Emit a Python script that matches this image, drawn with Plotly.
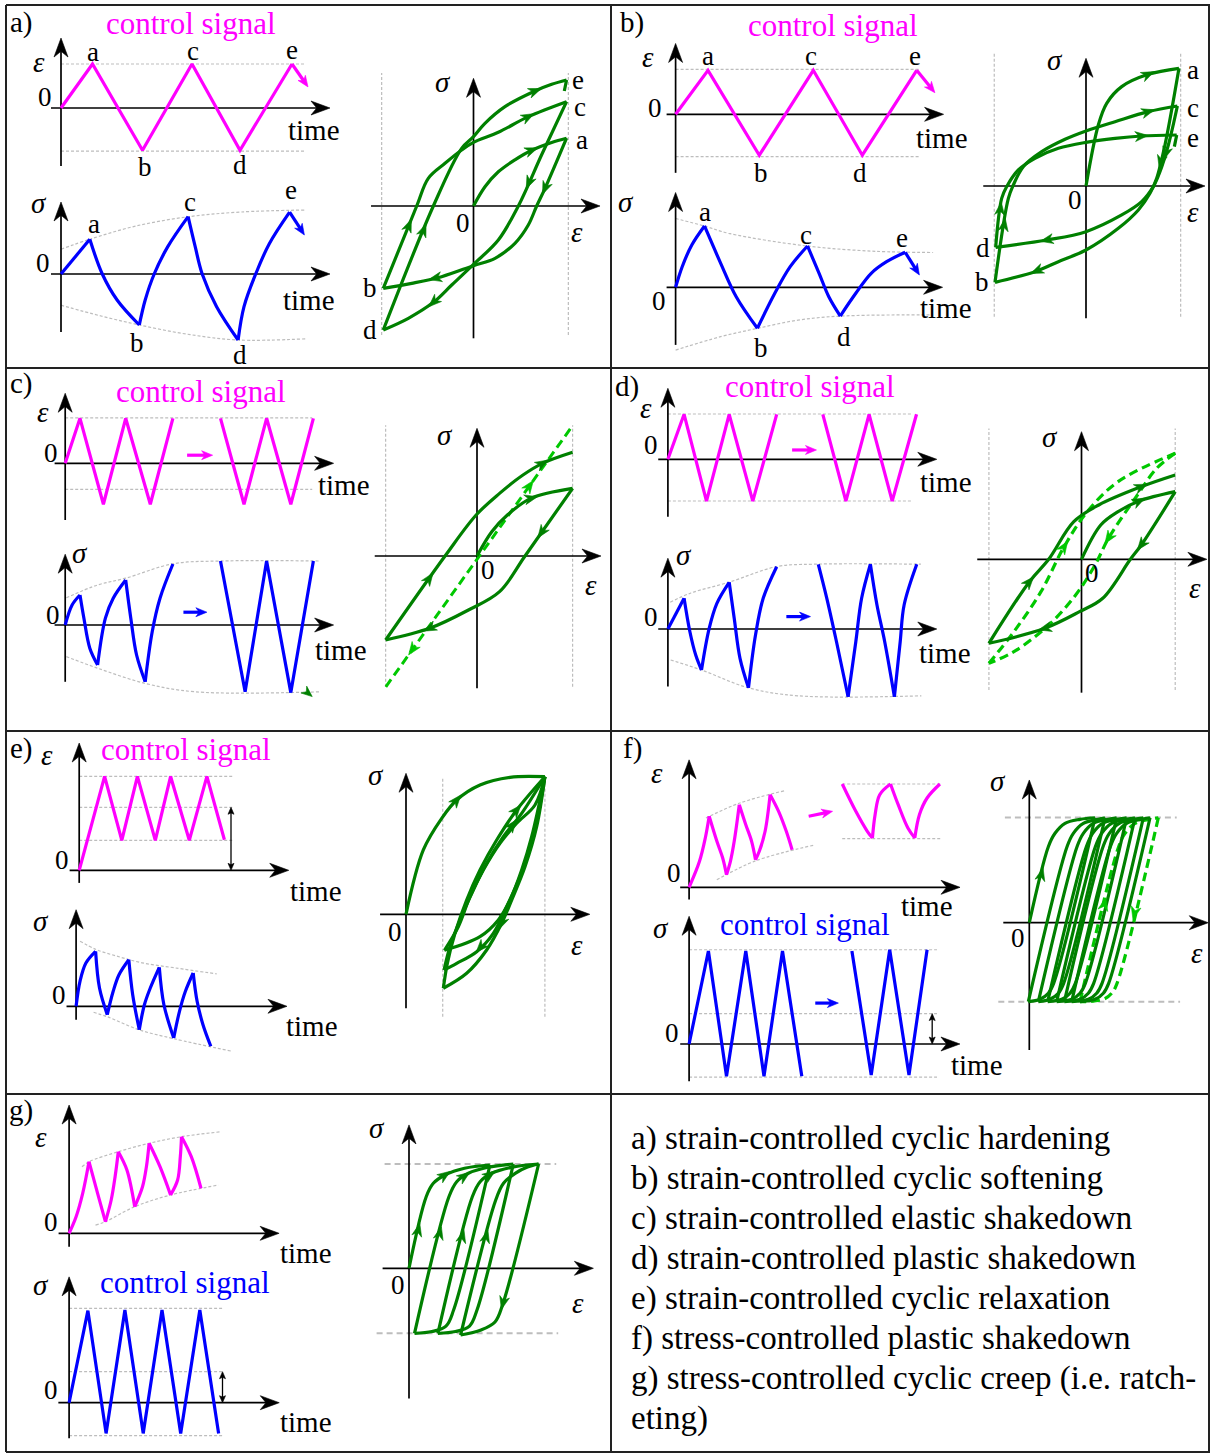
import math
import plotly.graph_objects as go

# =====================================================================
# DATA  (each small plot uses its own units: time in half-cycles/cycles,
#        strain and stress normalised to the control amplitude)
# =====================================================================

# ---------- a) strain-controlled cyclic hardening ----------
A_EPS_T = [0, 0.63, 1.63, 2.62, 3.58, 4.62]
A_EPS = [0, 1, -0.96, 1, -0.96, 1]
A_EPS_NEXT_T = [4.62, 4.94]
A_EPS_NEXT = [1, 0.48]
A_EPS_LIMITS = [1, -0.98]
A_SIG_T = [[0, 0.576], [0.576, 0.826, 1.122, 1.566], [1.566, 1.684, 1.864, 2.136, 2.542],
           [2.542, 2.684, 2.824, 3.112, 3.542], [3.542, 3.66, 3.894, 4.166, 4.572]]
A_SIG = [[0, 0.868], [0.868, 0, -0.65, -1.275], [-1.275, -0.65, 0, 0.683, 1.433],
         [1.433, 0.683, 0, -0.817, -1.65], [-1.65, -0.817, 0, 0.758, 1.548]]
A_SIG_NEXT_T = [4.572, 4.868]
A_SIG_NEXT = [1.548, 0.975]
A_ENV_UP_T = [0, 0.58, 1.5, 2.54, 3.6, 4.9]
A_ENV_UP = [0.62, 0.87, 1.2, 1.43, 1.55, 1.6]
A_ENV_LO_T = [0, 0.8, 1.57, 2.5, 3.54, 4.9]
A_ENV_LO = [-0.78, -1.05, -1.275, -1.5, -1.65, -1.62]
A_LOOP_EPS = [[0, 0.122, 0.264, 0.441, 0.619, 0.832, 0.99],
              [0.99, 0.761, 0.672, 0.583, 0.441, 0.229, 0, -0.339, -0.657, -0.96],
              [-0.96, -0.604, -0.481, -0.303, -0.126, 0, 0.264, 0.583, 0.99],
              [0.99, 0.73, 0.477, 0.264, 0, -0.232, -0.427, -0.693, -0.96],
              [-0.96, -0.427, -0.126, 0, 0.122, 0.335, 0.654, 0.832, 0.99],
              [0.99, 0.966]]
A_LOOP_SIG = [[0, 0.32, 0.57, 0.77, 0.93, 1.06, 1.13],
              [1.13, 0.294, 0, -0.317, -0.622, -0.872, -0.994, -1.178, -1.289, -1.372],
              [-1.372, 0, 0.461, 0.711, 0.933, 1.061, 1.228, 1.489, 1.739],
              [1.739, 0.87, 0, -0.567, -0.972, -1.317, -1.606, -1.872, -2.067],
              [-2.067, 0, 0.961, 1.156, 1.378, 1.656, 1.917, 2.028, 2.1],
              [2.1, 1.917]]
A_LOOP_ARROWS = [(0, 0.619, 0.933), (1, 0.761, 0.294), (1, -0.41, -1.194), (2, -0.693, -0.317),
                 (2, 0.583, 1.489), (3, 0.6, 0.378), (3, -0.427, -1.606), (4, -0.53, -0.4), (4, 0.654, 1.933)]

# ---------- b) strain-controlled cyclic softening ----------
B_EPS_T = [0, 0.648, 1.674, 2.754, 3.734, 4.822]
B_EPS = [0, 1, -0.93, 1, -0.93, 1]
B_EPS_NEXT_T = [4.822, 5.186]
B_EPS_NEXT = [1, 0.49]
B_EPS_LIMITS = [1.02, -0.964]
B_SIG_T = [[0, 0.132, 0.324, 0.578], [0.578, 0.902, 1.212, 1.636], [1.636, 1.984, 2.292, 2.638],
           [2.638, 2.87, 3.064, 3.294], [3.294, 3.604, 3.912, 4.22, 4.592]]
B_SIG = [[0, 0.515, 1.058, 1.533], [1.533, 0.6, -0.235, -1.025], [-1.025, -0.15, 0.515, 1.033],
         [1.033, 0.35, -0.235, -0.718], [-0.718, -0.15, 0.35, 0.64, 0.875]]
B_SIG_NEXT_T = [4.592, 4.876]
B_SIG_NEXT = [0.875, 0.308]
B_ENV_UP_T = [0, 0.58, 1.06, 2.64, 4.0, 5.15]
B_ENV_UP = [1.72, 1.53, 1.35, 1.03, 0.9, 0.87]
B_ENV_LO_T = [0, 0.9, 1.64, 2.45, 3.29, 5.15]
B_ENV_LO = [-1.57, -1.235, -1.025, -0.82, -0.72, -0.69]
B_LOOP_EPS = [[0, 0.131, 0.22, 0.38, 0.663, 0.989],
              [0.989, 0.84, 0.752, 0.681, 0.557, 0.344, 0, -0.294, -0.543, -0.968],
              [-0.968, -0.826, -0.773, -0.667, -0.471, -0.223, 0, 0.309, 0.663, 0.972],
              [0.972, 0.876, 0.787, 0.716, 0.592, 0.38, 0, -0.418, -0.961],
              [-0.961, -0.897, -0.844, -0.72, -0.543, -0.294, 0, 0.309, 0.592, 0.965],
              [0.965, 0.94]]
B_LOOP_SIG = [[0, 1.017, 1.378, 1.656, 1.861, 1.961],
              [1.961, 0.683, 0.128, -0.122, -0.4, -0.706, -1.067, -1.261, -1.428, -1.606],
              [-1.606, -0.206, 0.017, 0.322, 0.572, 0.778, 0.917, 1.072, 1.239, 1.333],
              [1.333, 0.683, 0.239, -0.011, -0.261, -0.483, -0.761, -0.9, -1.022],
              [-1.022, -0.206, -0.011, 0.267, 0.461, 0.628, 0.728, 0.794, 0.833, 0.85],
              [0.85, 0.656]]
B_LOOP_ARROWS = [(0, 0.663, 1.861), (1, 0.8, 0.4), (1, -0.525, -1.417), (2, -0.844, -0.65),
                 (2, 0.663, 1.239), (3, 0.83, 0.55), (3, -0.418, -0.9), (4, -0.926, -0.372), (4, 0.592, 0.833)]

# ---------- c) strain-controlled elastic shakedown ----------
C_EPS_T = [[0, 0.643, 1.661, 2.63, 3.7, 4.682], [6.752, 7.774, 8.757, 9.809, 10.79]]
C_EPS = [[0, 1, -0.91, 1, -0.91, 1], [1, -0.91, 1, -0.91, 1]]
C_EPS_LIMITS = [1.01, -0.58]
C_SIG_T = [[0, 0.3, 0.643], [0.643, 0.813, 1.07, 1.409], [1.409, 1.748, 2.087, 2.63],
           [2.63, 2.852, 3.104, 3.478], [3.478, 3.783, 4.122, 4.683]]
C_SIG = [[0, 0.5, 0.75], [0.75, 0.17, -0.58, -1.0], [-1.0, 0.17, 0.67, 1.125],
         [1.125, 0.17, -0.75, -1.42], [-1.42, -0.17, 0.67, 1.525]]
C_SIG2_T = [6.752, 7.822, 8.757, 9.809, 10.79]
C_SIG2 = [1.6, -1.67, 1.6, -1.69, 1.6]
C_ENV_UP_T = [0.05, 1.41, 2.63, 4.68, 6.75, 11.1]
C_ENV_UP = [0.68, 1.0, 1.17, 1.53, 1.6, 1.6]
C_ENV_LO_T = [0.05, 1.41, 3.48, 5.65, 11.1]
C_ENV_LO = [-0.79, -1.08, -1.46, -1.67, -1.67]
C_LOOP_EPS = [[0, 0.157, 0.323, 0.572, 1.017], [1.017, 0.511, 0.24, -0.091, -0.506, -0.972],
              [-0.972, -0.34, -0.009, 0.24, 0.489, 0.697, 1.017]]
C_LOOP_SIG = [[0, 0.405, 0.683, 0.961, 1.128], [1.128, 0, -0.594, -0.9, -1.206, -1.4],
              [-1.4, 0, 0.683, 1.044, 1.35, 1.544, 1.728]]
C_LOOP_ARROWS = [(0, 0.572, 0.989), (1, 0.697, 0.378), (1, -0.506, -1.206), (2, -0.506, -0.372), (2, 0.697, 1.544)]
C_ELASTIC_EPS = [-0.97, 1.02]
C_ELASTIC_SIG = [-2.18, 2.18]

# ---------- d) strain-controlled plastic shakedown ----------
D_EPS_T = [[0, 0.704, 1.678, 2.665, 3.691, 4.73], [6.735, 7.739, 8.748, 9.752, 10.81]]
D_EPS = [[0, 1, -0.93, 1, -0.93, 1], [1, -0.93, 1, -0.93, 1]]
D_EPS_LIMITS = [1.007, -0.927]
D_SIG_T = [[0, 0.704], [0.704, 0.956, 1.209, 1.461], [1.461, 1.795, 2.13, 2.665], [2.665, 2.883, 3.135, 3.504],
           [3.504, 3.809, 4.143, 4.73], [6.539, 6.909, 7.33, 7.835], [7.835, 8.17, 8.422, 8.804],
           [8.804, 9.09, 9.426, 9.848], [9.848, 10.1, 10.27, 10.82]]
D_SIG = [[0, 0.767], [0.767, -0.068, -0.65, -1.025], [-1.025, 0.018, 0.643, 1.168], [1.168, 0.268, -0.733, -1.468],
         [-1.468, -0.15, 0.768, 1.558], [1.618, 0.768, -0.318, -1.693], [-1.693, -0.318, 0.768, 1.618],
         [1.618, 0.6, -0.318, -1.693], [-1.693, -0.318, 0.6, 1.618]]
D_ENV_UP_T = [0.1, 1.0, 2.66, 4.73, 6.3, 11.0]
D_ENV_UP = [0.67, 0.9, 1.17, 1.56, 1.62, 1.62]
D_ENV_LO_T = [0.12, 1.46, 3.5, 5.65, 11.02]
D_ENV_LO = [-0.775, -1.025, -1.47, -1.67, -1.67]
D_LOOP_EPS = [[0, 0.205, 0.389, 0.615, 0.997], [0.997, 0.636, 0.52, 0.226, -0.021, -0.39, -0.985],
              [-0.985, -0.554, -0.349, -0.082, 0.184, 0.636, 0.997]]
D_LOOP_SIG = [[0, 0.572, 0.794, 0.972, 1.127], [1.127, 0.238, 0, -0.65, -0.873, -1.15, -1.4],
              [-1.4, -0.373, 0, 0.627, 0.905, 1.21, 1.405]]
D_LOOP_ARROWS = [(0, 0.615, 0.972), (1, 0.636, 0.238), (1, -0.39, -1.15), (2, -0.554, -0.373), (2, 0.636, 1.21)]
D_DASH_EPS = [[-0.985, -0.719, -0.431, -0.185, 0.061, 0.389, 0.997],
              [0.997, 0.8, 0.595, 0.287, 0.144, -0.062, -0.349, -0.719, -0.985]]
D_DASH_SIG = [[-1.733, -1.206, -0.539, 0.21, 0.794, 1.294, 1.767],
              [1.767, 1.517, 1.072, 0.35, -0.095, -0.595, -1.095, -1.54, -1.733]]
D_DASH_ARROWS = [(0, -0.185, 0.21), (1, 0.287, 0.35)]

# ---------- e) strain-controlled cyclic relaxation ----------
E_EPS_T = [0, 0.77, 1.291, 1.764, 2.306, 2.77, 3.336, 3.87, 4.4]
E_EPS = [0, 2.98, 0.952, 2.98, 0.952, 2.98, 0.952, 2.98, 0.97]
E_EPS_LEVELS = [2.98, 2.0, 0.952]
E_SIG_T = [[0, 0.118, 0.297, 0.591], [0.591, 0.709, 0.945], [0.945, 1.124, 1.3, 1.597], [1.597, 1.715, 1.915],
           [1.915, 2.07, 2.248, 2.521], [2.521, 2.661, 2.958], [2.958, 3.133, 3.312, 3.548],
           [3.548, 3.667, 3.845, 4.082]]
E_SIG = [[0, 0.833, 1.443, 1.833], [1.833, 0.61, -0.28], [-0.28, 0.5, 1.053, 1.553], [1.553, 0.387, -0.78],
         [-0.78, 0.053, 0.61, 1.3], [1.3, 0.053, -1.057], [-1.057, -0.167, 0.5, 1.11],
         [1.11, 0.167, -0.613, -1.333]]
E_ENV_UP_T = [0.12, 0.59, 1.24, 2.0, 3.0, 4.26]
E_ENV_UP = [2.17, 1.9, 1.67, 1.45, 1.28, 1.08]
E_ENV_LO_T = [0.53, 0.95, 1.9, 2.96, 4.73]
E_ENV_LO = [-0.2, -0.35, -0.78, -1.08, -1.5]
E_LOOP_EPS = [[0, 0.374, 0.771, 1.095, 1.598, 2.246, 3.0],
              [3.0, 2.822, 2.57, 2.282, 2.066, 1.742, 1.31, 0.806],
              [0.806, 0.893, 1.058, 1.31, 1.598, 1.958, 2.39, 3.0],
              [3.0, 2.75, 2.462, 2.175, 1.886, 1.527, 1.095, 0.821],
              [0.821, 0.95, 1.166, 1.454, 1.742, 2.102, 2.498, 3.0],
              [3.0, 2.714, 2.498, 2.246, 1.994, 1.598, 0.83],
              [0.83, 1.13, 1.382, 1.67, 2.03, 2.39, 2.786, 3.0]]
E_LOOP_SIG = [[0, 1.072, 1.6, 1.905, 2.155, 2.283, 2.293],
              [2.293, 1.46, 0.793, 0.238, -0.15, -0.595, -0.983, -1.233],
              [-1.233, -0.817, -0.317, 0.238, 0.738, 1.238, 1.738, 2.293],
              [2.293, 1.293, 0.627, 0.127, -0.317, -0.623, -0.817, -0.928],
              [-0.928, -0.54, -0.095, 0.405, 0.85, 1.293, 1.683, 2.293],
              [2.293, 1.293, 0.738, 0.238, -0.095, -0.373, -0.6],
              [-0.6, -0.207, 0.293, 0.738, 1.183, 1.517, 1.822, 2.293]]
E_LOOP_ARROWS = [(0, 1.095, 1.905), (2, 2.39, 1.74), (4, 2.3, 1.49), (1, 2.07, -0.15), (3, 1.6, -0.55)]
E_EPS_LIMITS = [0.793, 3.0]

# ---------- f) stress-controlled plastic shakedown ----------
F_EPS_T = [[0, 0.315, 0.491, 0.609], [0.609, 0.842, 1.018, 1.133], [1.133, 1.252, 1.367, 1.521],
           [1.521, 1.718, 1.894, 2.012], [2.012, 2.127, 2.303, 2.455], [2.455, 2.712, 2.945, 3.121],
           [4.642, 5.052, 5.4, 5.555], [5.555, 5.636, 5.776, 6.103], [6.103, 6.336, 6.63, 6.839],
           [6.839, 6.979, 7.212, 7.6]]
F_EPS = [[0, 0.867, 1.643, 2.367], [2.367, 1.533, 0.977, 0.42], [0.42, 0.867, 1.533, 2.753],
         [2.753, 2.087, 1.533, 0.92], [0.92, 1.2, 1.867, 3.087], [3.087, 2.533, 1.867, 1.253],
         [3.443, 2.533, 1.867, 1.643], [1.643, 2.42, 3.087, 3.443], [3.443, 2.753, 1.977, 1.643],
         [1.643, 2.42, 2.977, 3.443]]
F_EPS_ENV_UP_T = [0.51, 1.54, 2.89]
F_EPS_ENV_UP = [2.31, 2.81, 3.22]
F_EPS_ENV_LO_T = [0.84, 2.01, 3.76]
F_EPS_ENV_LO = [0.25, 0.88, 1.4]
F_EPS_LIMITS = [3.443, 1.62]
F_SIG_T = [[0, 0.522, 1.011, 1.532, 2.024, 2.524, 3.046], [4.4, 4.922, 5.422, 5.943, 6.432]]
F_SIG = [[0, 3.0, -1.04, 3.0, -1.04, 3.0, -1.04], [3.0, -1.0, 3.04, -1.0, 3.04]]
F_SIG_LEVELS = [3.04, 0.98, -1.07]
F_LOOP_EPS = [[0, 0.476, 0.643, 0.893, 1.268, 1.643],
              [1.643, 0.609, 0.476, 0.268, -0.024],
              [-0.024, 0.943, 1.101, 1.351, 1.726, 1.893],
              [1.893, 0.859, 0.726, 0.518, 0.226],
              [0.226, 1.193, 1.351, 1.601, 1.976, 2.184],
              [2.184, 1.151, 1.018, 0.809, 0.459],
              [0.459, 1.426, 1.584, 1.834, 2.209, 2.434],
              [2.434, 1.401, 1.268, 1.059, 0.684],
              [0.684, 1.651, 1.809, 2.059, 2.434, 2.643],
              [2.643, 1.609, 1.476, 1.268, 0.876],
              [0.876, 1.843, 2.001, 2.251, 2.626, 2.851],
              [2.851, 1.818, 1.684, 1.476, 1.059],
              [1.059, 2.026, 2.184, 2.434, 2.809, 3.018],
              [3.018, 1.984, 1.851, 1.643, 1.268]]
F_LOOP_SIG = [[0, 2.165, 2.547, 2.83, 2.945, 2.99],
              [2.99, -1.727, -2.01, -2.183, -2.25],
              [-2.25, 2.165, 2.547, 2.83, 2.945, 2.99],
              [2.99, -1.727, -2.01, -2.183, -2.25],
              [-2.25, 2.165, 2.547, 2.83, 2.945, 2.99],
              [2.99, -1.727, -2.01, -2.183, -2.25],
              [-2.25, 2.165, 2.547, 2.83, 2.945, 2.99],
              [2.99, -1.727, -2.01, -2.183, -2.25],
              [-2.25, 2.165, 2.547, 2.83, 2.945, 2.99],
              [2.99, -1.727, -2.01, -2.183, -2.25],
              [-2.25, 2.165, 2.547, 2.83, 2.945, 2.99],
              [2.99, -1.727, -2.01, -2.183, -2.25],
              [-2.25, 2.165, 2.547, 2.83, 2.945, 2.99],
              [2.99, -1.727, -2.01, -2.183, -2.25]]
F_DASH_EPS = [[1.268, 2.234, 2.393, 2.643, 3.018, 3.226], [3.226, 2.193, 2.059, 1.851, 1.268]]
F_DASH_SIG = [[-2.25, 2.165, 2.547, 2.83, 2.945, 2.99], [2.99, -1.727, -2.01, -2.183, -2.25]]
F_LOOP_ARROWS = [(0, 0.225, 1.407)]
F_DASH_ARROWS = [(0, 1.81, 0.553), (1, 2.64, 0.268)]
F_LIMITS = [3.0, -2.25]

# ---------- g) stress-controlled cyclic creep (ratcheting) ----------
G_EPS_T = [[0, 0.233, 0.453, 0.663], [0.663, 0.95, 1.21], [1.21, 1.403, 1.533, 1.64], [1.64, 1.927, 2.187],
           [2.187, 2.447, 2.577, 2.667], [2.667, 3.03, 3.383], [3.383, 3.617, 3.707, 3.747], [3.747, 4.073, 4.397]]
G_EPS = [[0, 0.664, 1.6, 2.864], [2.864, 1.6, 0.464], [0.464, 1.332, 2.264, 3.264], [3.264, 2.532, 1.064],
         [1.064, 1.864, 2.664, 3.6], [3.6, 2.664, 1.532], [1.532, 2.132, 3.064, 3.864], [3.864, 3.064, 1.8]]
G_EPS_ENV_UP_T = [0.43, 0.663, 1.64, 2.667, 3.747, 5.05]
G_EPS_ENV_UP = [2.66, 2.864, 3.264, 3.6, 3.864, 4.06]
G_EPS_ENV_LO_T = [0.88, 1.21, 2.187, 3.383, 4.98]
G_EPS_ENV_LO = [0.33, 0.464, 1.064, 1.532, 1.93]
G_SIG_T = [0, 0.508, 1.0, 1.508, 2.003, 2.511, 3.016, 3.533, 4.041]
G_SIG = [0, 2.97, -0.99, 2.99, -0.99, 2.99, -0.99, 2.99, -0.99]
G_SIG_LEVELS = [3.045, 1.0, -1.06]
G_LOOP_EPS = [[0, 0.43, 0.608, 0.9, 1.388, 2.023],
              [2.023, 1.115, 0.925, 0.575, 0.138],
              [0.138, 0.998, 1.193, 1.485, 1.973, 2.608],
              [2.608, 1.7, 1.513, 1.163, 0.723],
              [0.723, 1.583, 1.778, 2.07, 2.558, 3.24],
              [3.24, 2.338, 2.15, 1.8, 1.29],
              [1.29, 2.168, 2.363, 2.655, 2.948, 3.24]]
G_LOOP_SIG = [[0, 2.057, 2.443, 2.681, 2.874, 2.968],
              [2.968, -1.2, -1.66, -1.816, -1.868],
              [-1.868, 2.057, 2.489, 2.73, 2.902, 2.997],
              [2.997, -1.2, -1.66, -1.816, -1.868],
              [-1.868, 2.057, 2.489, 2.73, 2.902, 2.997],
              [2.997, -1.055, -1.543, -1.773, -1.917],
              [-1.917, 1.963, 2.443, 2.73, 2.902, 2.997]]
G_LOOP_ARROWS = [(0, 0.265, 1.1), (2, 0.8, 1.006), (4, 1.388, 0.908), (6, 1.973, 0.908),
                 (0, 0.9, 2.681), (2, 1.388, 2.65), (4, 2.02, 2.7), (5, 2.05, -0.911)]
G_LIMITS = [3.0, -1.868]

LEGEND = ["a) strain-controlled cyclic hardening",
          "b) strain-controlled cyclic softening",
          "c) strain-controlled elastic shakedown",
          "d) strain-controlled plastic shakedown",
          "e) strain-controlled cyclic relaxation",
          "f) stress-controlled plastic shakedown",
          "g) stress-controlled cyclic creep (i.e. ratch-",
          "eting)"]

# =====================================================================
# LAYOUT / STYLE
# =====================================================================
W, H = 1210, 1454
FONT = "Liberation Serif"
MAG, BLUE, DG, LG, GREY, BLACK = "#ff00ff", "#0000ff", "#008000", "#00c800", "#bdbdbd", "#000000"
EPS, SIG = "<i>ε</i>", "<i>σ</i>"

# frame: origin px (x, y), px per unit (x, y), axis extents in units (x0, x1, y0, y1)
FRAMES = {
    'a1': (61, 108, 50, 44, -0.2, 5.38, -1.32, 1.59),
    'a2': (61, 274, 50, 40, -0.2, 5.38, -1.45, 1.8),
    'a3': (473.5, 206, 94, 60, -1.09, 1.346, -2.205, 2.128),
    'b1': (675.6, 114.3, 50, 44, -0.18, 5.36, -1.33, 1.61),
    'b2': (675.6, 287.3, 50, 40, -0.18, 5.34, -1.44, 2.37),
    'b3': (1086, 186, 94, 60, -1.093, 1.266, -2.205, 2.128),
    'c1': (65.2, 463.3, 23, 45, -0.46, 11.67, -1.26, 1.556),
    'c2': (65.2, 625, 23, 40, -0.46, 11.67, -1.42, 1.77),
    'c3': (477, 556, 94, 60, -1.088, 1.319, -2.205, 2.128),
    'd1': (667.9, 459.3, 23, 45, -0.42, 11.69, -1.276, 1.578),
    'd2': (667.9, 629, 23, 40, -0.42, 11.69, -1.44, 1.77),
    'd3': (1081.5, 559.3, 94, 60, -1.109, 1.334, -2.223, 2.127),
    'e1': (79.2, 870.3, 33, 31.5, -0.29, 6.35, -0.4, 4.04),
    'e2': (76.1, 1006.3, 33, 30, -0.29, 6.39, -0.45, 3.22),
    'e3': (406, 914.3, 46.3, 60, -0.56, 3.97, -1.567, 2.35),
    'f1': (689.1, 887.3, 33, 30, -0.27, 8.21, -0.41, 4.25),
    'f2': (689.1, 1044, 37, 31, -0.24, 7.32, -1.2, 4.12),
    'f3': (1029.3, 922.7, 40, 35.1, -0.65, 4.475, -3.627, 4.066),
    'g1': (69.1, 1233.3, 30, 25, -0.35, 7.0, -0.54, 5.13),
    'g2': (69.1, 1402.7, 37, 31, -0.29, 5.68, -1.15, 4.06),
    'g3': (409, 1268.3, 40, 34.8, -0.66, 4.61, -3.74, 4.12),
}

fig = go.Figure()
PL = {}
HEADS = {}


def add_plot(name, ox, oy, sx, sy):
    k = len(PL) + 1
    PL[name] = dict(k=k, ox=ox, oy=oy, sx=sx, sy=sy)
    xa = dict(domain=[0, 1], range=[-ox / sx, (W - ox) / sx], visible=False, fixedrange=True,
              showgrid=False, zeroline=False)
    ya = dict(domain=[0, 1], range=[(oy - H) / sy, oy / sy], visible=False, fixedrange=True,
              showgrid=False, zeroline=False)
    if k > 1:
        xa.update(overlaying='x', anchor=f'y{k}')
        ya.update(overlaying='y', anchor=f'x{k}')
        fig.update_layout({f'xaxis{k}': xa, f'yaxis{k}': ya})
    else:
        fig.update_layout({'xaxis': xa, 'yaxis': ya})


def ref(name):
    k = PL[name]['k']
    return ('x', 'y') if k == 1 else (f'x{k}', f'y{k}')


def path(name, xs, ys, color, width=3.2, dash=None, smooth=True):
    xr, yr = ref(name)
    fig.add_trace(go.Scatter(x=list(xs), y=list(ys), xaxis=xr, yaxis=yr, mode='lines',
                             line=dict(color=color, width=width, dash=dash,
                                       shape='spline' if smooth else 'linear', smoothing=1.0),
                             hoverinfo='skip', showlegend=False))


def segments(name, xl, yl, color, width=3.2, dash=None, smooth=True):
    X, Y = [], []
    for xs, ys in zip(xl, yl):
        X += list(xs) + [None]
        Y += list(ys) + [None]
    path(name, X, Y, color, width, dash, smooth)


def head(name, x, y, ang, L, Wd, color, center=False, notch=0.3):
    p = PL[name]
    c, s = math.cos(math.radians(ang)), math.sin(math.radians(ang))
    off = L / 2 if center else 0
    tx, ty = off * c, off * s
    pts = [(tx, ty),
           (tx - L * c - Wd / 2 * s, ty - L * s + Wd / 2 * c),
           (tx - L * (1 - notch) * c, ty - L * (1 - notch) * s),
           (tx - L * c + Wd / 2 * s, ty - L * s - Wd / 2 * c),
           (tx, ty)]
    hx, hy = HEADS.setdefault((name, color), ([], []))
    for a, b in pts:
        hx.append(x + a / p['sx'])
        hy.append(y + b / p['sy'])
    hx.append(None)
    hy.append(None)


def mark(name, xs, ys, x, y, color, L=13, Wd=10):
    p = PL[name]
    sx, sy = p['sx'], p['sy']
    qx, qy = x * sx, y * sy
    best = None
    for i in range(len(xs) - 1):
        ax_, ay_ = xs[i] * sx, ys[i] * sy
        bx_, by_ = xs[i + 1] * sx, ys[i + 1] * sy
        dx, dy = bx_ - ax_, by_ - ay_
        dd = dx * dx + dy * dy
        if dd == 0:
            continue
        t = max(0.0, min(1.0, ((qx - ax_) * dx + (qy - ay_) * dy) / dd))
        px_, py_ = ax_ + t * dx, ay_ + t * dy
        dist = (px_ - qx) ** 2 + (py_ - qy) ** 2
        if best is None or dist < best[0]:
            best = (dist, px_, py_, math.degrees(math.atan2(dy, dx)))
    _, px_, py_, ang = best
    head(name, px_ / sx, py_ / sy, ang, L, Wd, color, center=True)


def arrow_line(name, x0, y0, x1, y1, color, width=3.2, L=11, Wd=9):
    p = PL[name]
    vx, vy = (x1 - x0) * p['sx'], (y1 - y0) * p['sy']
    n = math.hypot(vx, vy)
    ang = math.degrees(math.atan2(vy, vx))
    ex = x1 - 0.6 * L * vx / n / p['sx']
    ey = y1 - 0.6 * L * vy / n / p['sy']
    path(name, [x0, ex], [y0, ey], color, width, smooth=False)
    head(name, x1, y1, ang, L, Wd, color)


def double_arrow(name, x, y0, y1):
    p = PL[name]
    d = 4 / p['sy']
    path(name, [x, x], [y0 + d, y1 - d], BLACK, 1.3, smooth=False)
    head(name, x, y1, 90, 7, 6, BLACK, notch=0.2)
    head(name, x, y0, -90, 7, 6, BLACK, notch=0.2)


def axes(name):
    ox, oy, sx, sy, x0, x1, y0, y1 = FRAMES[name]
    path(name, [x0, x1 - 10 / sx], [0, 0], BLACK, 1.7, smooth=False)
    path(name, [0, 0], [y0, y1 - 10 / sy], BLACK, 1.7, smooth=False)
    head(name, x1, 0, 0, 19, 14, BLACK)
    head(name, 0, y1, 90, 19, 14, BLACK)


def guide(name, xs, ys, width=1.2, dash='3px,2px', smooth=True):
    path(name, xs, ys, GREY, width, dash, smooth)


def label(name, x, y, text, size=29, color=BLACK):
    xr, yr = ref(name)
    fig.add_annotation(x=x, y=y, xref=xr, yref=yr, text=text, showarrow=False,
                       font=dict(family=FONT, size=size, color=color),
                       xanchor='center', yanchor='middle')


def ptext(px, py, text, size=29, color=BLACK, xanchor='center'):
    fig.add_annotation(x=px / W, y=1 - py / H, xref='paper', yref='paper', text=text, showarrow=False,
                       font=dict(family=FONT, size=size, color=color), xanchor=xanchor, yanchor='middle')


def loops(name, xl, yl, arrows, color, dash=None):
    segments(name, xl, yl, color, 3.2, dash)
    for i, x, y in arrows:
        mark(name, xl[i], yl[i], x, y, color)


for nm, fr in FRAMES.items():
    add_plot(nm, *fr[:4])

# ----------------------------- panel a -----------------------------
guide('a1', [0, 4.86], [A_EPS_LIMITS[0]] * 2, smooth=False)
guide('a1', [0, 4.86], [A_EPS_LIMITS[1]] * 2, smooth=False)
axes('a1')
path('a1', A_EPS_T, A_EPS, MAG, smooth=False)
arrow_line('a1', A_EPS_NEXT_T[0], A_EPS_NEXT[0], A_EPS_NEXT_T[1], A_EPS_NEXT[1], MAG)
guide('a2', A_ENV_UP_T, A_ENV_UP)
guide('a2', A_ENV_LO_T, A_ENV_LO)
axes('a2')
segments('a2', A_SIG_T, A_SIG, BLUE)
arrow_line('a2', A_SIG_NEXT_T[0], A_SIG_NEXT[0], A_SIG_NEXT_T[1], A_SIG_NEXT[1], BLUE)
guide('a3', [-0.977, -0.977], [-2.15, 2.217], smooth=False)
guide('a3', [1.009, 1.009], [-2.15, 2.217], smooth=False)
axes('a3')
loops('a3', A_LOOP_EPS, A_LOOP_SIG, A_LOOP_ARROWS, DG)

# ----------------------------- panel b -----------------------------
guide('b1', [0, 4.88], [B_EPS_LIMITS[0]] * 2, smooth=False)
guide('b1', [0, 4.88], [B_EPS_LIMITS[1]] * 2, smooth=False)
axes('b1')
path('b1', B_EPS_T, B_EPS, MAG, smooth=False)
arrow_line('b1', B_EPS_NEXT_T[0], B_EPS_NEXT[0], B_EPS_NEXT_T[1], B_EPS_NEXT[1], MAG)
guide('b2', B_ENV_UP_T, B_ENV_UP)
guide('b2', B_ENV_LO_T, B_ENV_LO)
axes('b2')
segments('b2', B_SIG_T, B_SIG, BLUE)
arrow_line('b2', B_SIG_NEXT_T[0], B_SIG_NEXT[0], B_SIG_NEXT_T[1], B_SIG_NEXT[1], BLUE)
guide('b3', [-0.976, -0.976], [-2.18, 2.21], smooth=False)
guide('b3', [1.007, 1.007], [-2.18, 2.21], smooth=False)
axes('b3')
loops('b3', B_LOOP_EPS, B_LOOP_SIG, B_LOOP_ARROWS, DG)

# ----------------------------- panel c -----------------------------
guide('c1', [0, 10.74], [C_EPS_LIMITS[0]] * 2, smooth=False)
guide('c1', [0, 10.74], [C_EPS_LIMITS[1]] * 2, smooth=False)
axes('c1')
segments('c1', C_EPS_T, C_EPS, MAG, smooth=False)
arrow_line('c1', 5.3, 0.18, 6.41, 0.18, MAG)
guide('c2', C_ENV_UP_T, C_ENV_UP)
guide('c2', C_ENV_LO_T, C_ENV_LO)
axes('c2')
segments('c2', C_SIG_T, C_SIG, BLUE)
path('c2', C_SIG2_T, C_SIG2, BLUE, smooth=False)
arrow_line('c2', 5.14, 0.32, 6.16, 0.32, BLUE)
head('c2', 10.74, -1.79, -40, 11, 9, DG)
guide('c3', [-0.972, -0.972], [-2.18, 2.18], smooth=False)
guide('c3', [1.017, 1.017], [-2.18, 2.18], smooth=False)
axes('c3')
path('c3', C_ELASTIC_EPS, C_ELASTIC_SIG, LG, 3.0, dash='9px,5px', smooth=False)
mark('c3', C_ELASTIC_EPS, C_ELASTIC_SIG, 0.552, 1.18, LG)
mark('c3', C_ELASTIC_EPS[::-1], C_ELASTIC_SIG[::-1], -0.715, -1.53, LG)
loops('c3', C_LOOP_EPS, C_LOOP_SIG, C_LOOP_ARROWS, DG)

# ----------------------------- panel d -----------------------------
guide('d1', [0, 10.6], [D_EPS_LIMITS[0]] * 2, smooth=False)
guide('d1', [0, 10.6], [D_EPS_LIMITS[1]] * 2, smooth=False)
axes('d1')
segments('d1', D_EPS_T, D_EPS, MAG, smooth=False)
arrow_line('d1', 5.4, 0.207, 6.46, 0.207, MAG)
guide('d2', D_ENV_UP_T, D_ENV_UP)
guide('d2', D_ENV_LO_T, D_ENV_LO)
axes('d2')
segments('d2', D_SIG_T, D_SIG, BLUE)
arrow_line('d2', 5.15, 0.31, 6.2, 0.31, BLUE)
guide('d3', [-0.985, -0.985], [-2.18, 2.18], smooth=False)
guide('d3', [0.997, 0.997], [-2.18, 2.18], smooth=False)
axes('d3')
loops('d3', D_DASH_EPS, D_DASH_SIG, D_DASH_ARROWS, LG, dash='9px,5px')
loops('d3', D_LOOP_EPS, D_LOOP_SIG, D_LOOP_ARROWS, DG)

# ----------------------------- panel e -----------------------------
for lv in E_EPS_LEVELS:
    guide('e1', [0, 4.67], [lv, lv], smooth=False)
axes('e1')
path('e1', E_EPS_T, E_EPS, MAG, smooth=False)
double_arrow('e1', 4.6, 0, 2.0)
guide('e2', E_ENV_UP_T, E_ENV_UP)
guide('e2', E_ENV_LO_T, E_ENV_LO)
axes('e2')
segments('e2', E_SIG_T, E_SIG, BLUE)
for lv in E_EPS_LIMITS:
    guide('e3', [lv, lv], [-1.707, 2.293], smooth=False)
axes('e3')
loops('e3', E_LOOP_EPS, E_LOOP_SIG, E_LOOP_ARROWS, DG)

# ----------------------------- panel f -----------------------------
guide('f1', F_EPS_ENV_UP_T, F_EPS_ENV_UP)
guide('f1', F_EPS_ENV_LO_T, F_EPS_ENV_LO)
for lv in F_EPS_LIMITS:
    guide('f1', [4.64, 7.62], [lv, lv], smooth=False)
axes('f1')
segments('f1', F_EPS_T, F_EPS, MAG)
arrow_line('f1', 3.624, 2.367, 4.348, 2.533, MAG)
for lv in F_SIG_LEVELS:
    guide('f2', [0, 6.7], [lv, lv], smooth=False)
axes('f2')
segments('f2', F_SIG_T, F_SIG, BLUE, smooth=False)
arrow_line('f2', 3.41, 1.32, 4.035, 1.32, BLUE)
double_arrow('f2', 6.57, 0, 0.98)
guide('f3', [-0.61, 3.685], [F_LIMITS[0]] * 2, width=2, dash='6px,4px', smooth=False)
guide('f3', [-0.775, 3.77], [F_LIMITS[1]] * 2, width=2, dash='6px,4px', smooth=False)
axes('f3')
loops('f3', F_DASH_EPS, F_DASH_SIG, F_DASH_ARROWS, LG, dash='9px,5px')
loops('f3', F_LOOP_EPS, F_LOOP_SIG, F_LOOP_ARROWS, DG)

# ----------------------------- panel g -----------------------------
guide('g1', G_EPS_ENV_UP_T, G_EPS_ENV_UP)
guide('g1', G_EPS_ENV_LO_T, G_EPS_ENV_LO)
axes('g1')
segments('g1', G_EPS_T, G_EPS, MAG)
for lv in G_SIG_LEVELS:
    guide('g2', [0, 4.15], [lv, lv], smooth=False)
axes('g2')
path('g2', G_SIG_T, G_SIG, BLUE, smooth=False)
double_arrow('g2', 4.146, 0, 1.0)
guide('g3', [-0.61, 3.68], [G_LIMITS[0]] * 2, width=2, dash='6px,4px', smooth=False)
guide('g3', [-0.81, 3.73], [G_LIMITS[1]] * 2, width=2, dash='6px,4px', smooth=False)
axes('g3')
loops('g3', G_LOOP_EPS, G_LOOP_SIG, G_LOOP_ARROWS, DG)

# ----------------------------- arrowheads -----------------------------
for (nm, col), (hx, hy) in HEADS.items():
    xr, yr = ref(nm)
    fig.add_trace(go.Scatter(x=hx, y=hy, xaxis=xr, yaxis=yr, mode='lines', fill='toself',
                             fillcolor=col, line=dict(color=col, width=0.6),
                             hoverinfo='skip', showlegend=False))

# ----------------------------- labels -----------------------------
LABELS = {
    'a1': [(-0.44, 1.05, EPS), (-0.32, 0.26, '0'), (0.63, 1.27, 'a'), (1.67, -1.33, 'b'), (2.63, 1.3, 'c'),
           (3.58, -1.3, 'd'), (4.62, 1.32, 'e'), (5.05, -0.5, 'time')],
    'a2': [(-0.44, 1.78, SIG), (-0.36, 0.27, '0'), (0.65, 1.25, 'a'), (1.51, -1.73, 'b'), (2.57, 1.81, 'c'),
           (3.58, -2.03, 'd'), (4.6, 2.1, 'e'), (4.95, -0.65, 'time')],
    'a3': [(-0.32, 2.07, SIG), (-0.108, -0.29, '0'), (1.098, -0.428, EPS), (1.151, 1.1, 'a'),
           (1.133, 1.655, 'c'), (1.115, 2.1, 'e'), (-1.101, -1.372, 'b'), (-1.101, -2.067, 'd')],
    'b1': [(-0.55, 1.3, EPS), (-0.41, 0.14, '0'), (0.65, 1.32, 'a'), (1.71, -1.33, 'b'), (2.71, 1.32, 'c'),
           (3.69, -1.33, 'd'), (4.79, 1.32, 'e'), (5.33, -0.54, 'time')],
    'b2': [(-0.99, 2.13, SIG), (-0.33, -0.34, '0'), (0.59, 1.88, 'a'), (1.71, -1.52, 'b'), (2.61, 1.31, 'c'),
           (3.37, -1.24, 'd'), (4.53, 1.23, 'e'), (5.41, -0.52, 'time')],
    'b3': [(-0.33, 2.1, SIG), (1.141, 1.933, 'a'), (1.141, 1.295, 'c'), (1.141, 0.805, 'e'),
           (-1.103, -1.605, 'b'), (-1.092, -1.038, 'd'), (-0.117, -0.233, '0'), (1.141, -0.428, EPS)],
    'c1': [(-0.97, 1.15, EPS), (-0.63, 0.22, '0'), (12.1, -0.48, 'time')],
    'c2': [(0.64, 1.79, SIG), (-0.54, 0.25, '0'), (12.0, -0.63, 'time')],
    'c3': [(-0.34, 2.02, SIG), (0.116, -0.233, '0'), (1.216, -0.483, EPS)],
    'd1': [(-0.97, 1.13, EPS), (-0.72, 0.32, '0'), (12.1, -0.5, 'time')],
    'd2': [(0.7, 1.85, SIG), (-0.72, 0.31, '0'), (12.03, -0.61, 'time')],
    'd3': [(-0.33, 2.04, SIG), (0.11, -0.23, '0'), (1.21, -0.48, EPS)],
    'e1': [(-0.98, 3.67, EPS), (-0.51, 0.34, '0'), (7.18, -0.67, 'time')],
    'e2': [(-1.06, 2.83, SIG), (-0.53, 0.39, '0'), (7.16, -0.67, 'time')],
    'e3': [(-0.65, 2.32, SIG), (-0.24, -0.3, '0'), (3.69, -0.51, EPS)],
    'f1': [(-0.97, 3.81, EPS), (-0.45, 0.48, '0'), (7.21, -0.63, 'time')],
    'f2': [(-0.76, 3.74, SIG), (-0.45, 0.35, '0'), (7.79, -0.67, 'time')],
    'f3': [(-0.78, 4.04, SIG), (-0.28, -0.44, '0'), (4.2, -0.87, EPS)],
    'g1': [(-0.94, 3.86, EPS), (-0.61, 0.46, '0'), (7.91, -0.8, 'time')],
    'g2': [(-0.76, 3.8, SIG), (-0.5, 0.41, '0'), (6.41, -0.61, 'time')],
    'g3': [(-0.81, 4.02, SIG), (-0.27, -0.48, '0'), (4.22, -1.0, EPS)],
}
LETTER_SIZE = 27
for nm, items in LABELS.items():
    for x, y, t in items:
        label(nm, x, y, t, size=LETTER_SIZE if len(t) == 1 else 29)

# panel letters and "control signal" captions (paper coordinates)
for px, py, t in [(21, 22, 'a)'), (632, 22, 'b)'), (21, 383, 'c)'), (627, 386, 'd)'),
                  (21, 748, 'e)'), (632, 748, 'f)'), (21, 1110, 'g)')]:
    ptext(px, py, t)
for px, py, col in [(191, 24, MAG), (833, 25, MAG), (201, 391, MAG), (810, 386, MAG),
                    (186, 749, MAG), (805, 924, BLUE), (185, 1282, BLUE)]:
    ptext(px, py, 'control signal', size=31, color=col)
for i, t in enumerate(LEGEND):
    ptext(629, 1138 + 40 * i, t, size=33, xanchor='left')

# grid of the figure
shapes = []
for x0, y0, x1, y1 in [(6, 5, 1210, 5), (6, 1452, 1210, 1452), (6, 5, 6, 1452), (1209, 5, 1209, 1452),
                       (611, 5, 611, 1452), (6, 368, 1210, 368), (6, 731, 1210, 731), (6, 1094, 1210, 1094)]:
    shapes.append(dict(type='line', xref='paper', yref='paper', x0=x0 / W, x1=x1 / W,
                       y0=1 - y0 / H, y1=1 - y1 / H, line=dict(color='#222222', width=2)))

fig.update_layout(width=W, height=H, margin=dict(l=0, r=0, t=0, b=0),
                  paper_bgcolor='white', plot_bgcolor='rgba(0,0,0,0)',
                  shapes=shapes, showlegend=False)
fig.write_html("out.html", config={'displayModeBar': False, 'staticPlot': True},
               post_script="document.body.style.margin='0px';document.body.style.overflow='hidden';")
